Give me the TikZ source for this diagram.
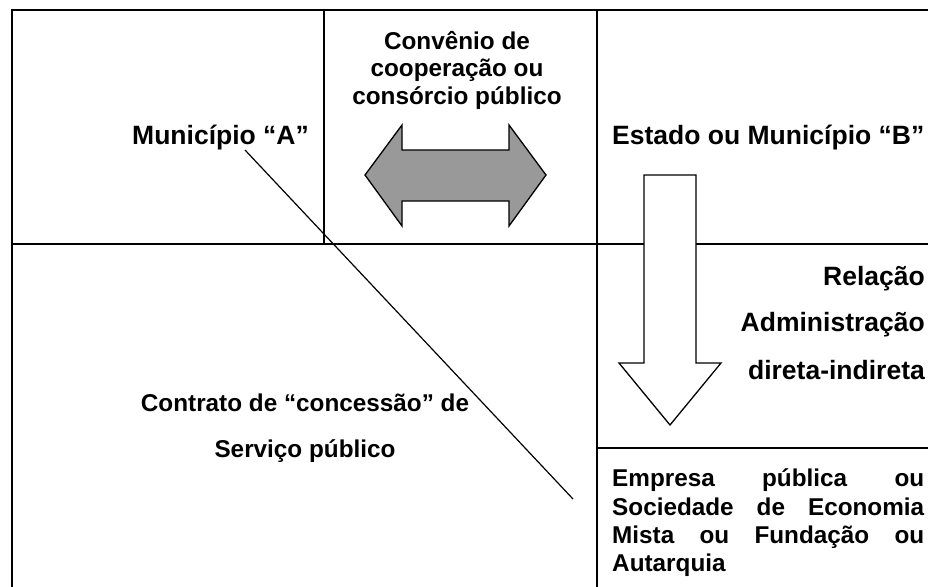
\documentclass[tikz,border=0pt]{standalone}
\usepackage{fontspec}
\setmainfont{Liberation Sans}
\definecolor{arrowgray}{HTML}{999999}
\begin{document}
\begin{tikzpicture}[x=1pt,y=-1pt,
  grid/.style={line width=2pt, line cap=butt},
  bigtxt/.style={inner sep=0pt, font=\bfseries\fontsize{26.5}{30}\selectfont},
  smalltxt/.style={inner sep=0pt, font=\bfseries\fontsize{24.3}{28}\selectfont},
  blockarrow/.style={line width=1.3pt, line join=miter, draw=black},
  diag/.style={line width=1.2pt}]
\useasboundingbox (0,0) rectangle (928,586);
\clip (0,0) rectangle (928,586);
% table grid
\coordinate (gBL) at (12,600);
\coordinate (gTL) at (12,10);
\coordinate (gTR) at (940,10);
\coordinate (c1T) at (324,10);
\coordinate (c1B) at (324,244);
\coordinate (c2T) at (597,10);
\coordinate (c2B) at (597,600);
\coordinate (r1L) at (12,244);
\coordinate (r1R) at (940,244);
\coordinate (r2L) at (597,448);
\coordinate (r2R) at (940,448);
\draw[grid] (gBL) -- (gTL) -- (gTR);
\draw[grid] (c1T) -- (c1B);
\draw[grid] (c2T) -- (c2B);
\draw[grid] (r1L) -- (r1R);
\draw[grid] (r2L) -- (r2R);
% double arrow
\filldraw[blockarrow, fill=arrowgray] (365,175) -- (402,125) -- (402,150) -- (509,150) -- (509,125)
  -- (546,175) -- (509,226) -- (509,201) -- (402,201) -- (402,226) -- cycle;
% down arrow
\filldraw[blockarrow, fill=white] (644,175) -- (696,175) -- (696,363) -- (721,363) -- (670,425)
  -- (619,363) -- (644,363) -- cycle;
% diagonal line
\coordinate (dA) at (245,150);
\coordinate (dB) at (573,499);
\draw[diag] (dA) -- (dB);
% texts
\node[bigtxt, anchor=base west] (munA) at (132,144) {Município “A”};
\node[bigtxt, anchor=base west] (estB) at (612,144) {Estado ou Município “B”};
\node[smalltxt, anchor=base] (conv1) at (457,49) {Convênio de};
\node[smalltxt, anchor=base] (conv2) at (457,76) {cooperação ou};
\node[smalltxt, anchor=base] (conv3) at (457,104) {consórcio público};
\node[smalltxt, anchor=base] (contr1) at (305,411) {Contrato de “concessão” de};
\node[smalltxt, anchor=base] (contr2) at (305,457) {Serviço público};
\node[bigtxt, anchor=base east] (rel1) at (925,285) {Relação};
\node[bigtxt, anchor=base east] (rel2) at (925,331) {Administração};
\node[bigtxt, anchor=base east] (rel3) at (925,379) {direta-indireta};
\node[smalltxt, anchor=base west] (emp1) at (612,486) {\makebox[312pt][s]{Empresa pública ou}};
\node[smalltxt, anchor=base west] (emp2) at (612,515) {\makebox[312pt][s]{Sociedade de Economia}};
\node[smalltxt, anchor=base west] (emp3) at (612,543) {\makebox[312pt][s]{Mista ou Fundação ou}};
\node[smalltxt, anchor=base west] (emp4) at (612,571) {Autarquia};
\end{tikzpicture}
\end{document}
